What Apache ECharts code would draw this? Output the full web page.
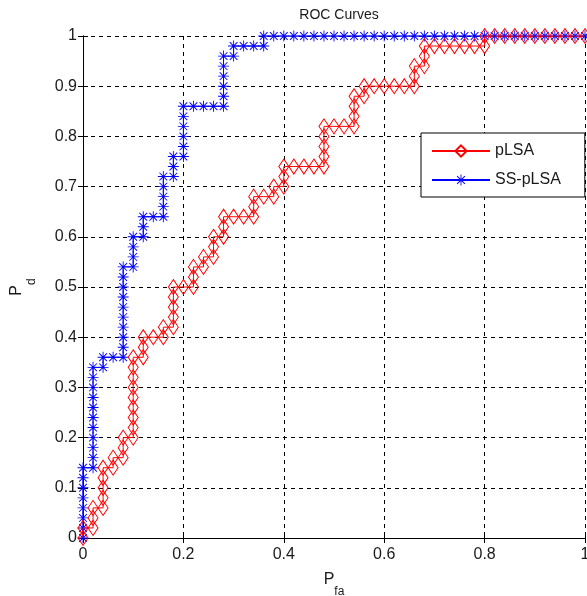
<!DOCTYPE html>
<html lang="en">
<head>
    <meta charset="UTF-8">
    <title>ROC Curves</title>
    <script type="text/javascript" src="https://cdn.jsdelivr.net/npm/echarts@6/dist/echarts.min.js"></script>
    <style>
        body { margin: 0; background: #fff; }
    </style>
</head>
<body>
<div id="main" style="width: 587px;height:596px;"></div>
<script>
    // pLSA: false alarm rate / detection rate
    var plsaFa = [0, 0, 0.02, 0.02, 0.02, 0.04, 0.04, 0.04, 0.04, 0.04, 0.06, 0.06, 0.08, 0.08, 0.08,
        0.10, 0.10, 0.10, 0.10, 0.10, 0.10, 0.10, 0.10, 0.10,
        0.12, 0.12, 0.12, 0.14, 0.16, 0.16,
        0.18, 0.18, 0.18, 0.18, 0.18, 0.20, 0.22, 0.22, 0.22, 0.24, 0.24,
        0.26, 0.26, 0.26, 0.28, 0.28, 0.28, 0.30, 0.32, 0.34, 0.34, 0.34, 0.36, 0.38, 0.38,
        0.40, 0.40, 0.40, 0.42, 0.44, 0.46, 0.48, 0.48, 0.48, 0.48, 0.48,
        0.50, 0.52, 0.54, 0.54, 0.54, 0.54, 0.56, 0.56,
        0.58, 0.60, 0.62, 0.64, 0.66, 0.66, 0.66, 0.68, 0.68, 0.68,
        0.70, 0.72, 0.74, 0.76, 0.78, 0.80,
        0.80, 0.82, 0.84, 0.86, 0.88, 0.90, 0.92, 0.94, 0.96, 0.98, 1.00];
    var plsaPd = [0, 0.02, 0.02, 0.04, 0.06, 0.06, 0.08, 0.10, 0.12, 0.14, 0.14, 0.16, 0.16, 0.18, 0.20,
        0.20, 0.22, 0.24, 0.26, 0.28, 0.30, 0.32, 0.34, 0.36,
        0.36, 0.38, 0.40, 0.40, 0.40, 0.42,
        0.42, 0.44, 0.46, 0.48, 0.50, 0.50, 0.50, 0.52, 0.54, 0.54, 0.56,
        0.56, 0.58, 0.60, 0.60, 0.62, 0.64, 0.64, 0.64, 0.64, 0.66, 0.68, 0.68, 0.68, 0.70,
        0.70, 0.72, 0.74, 0.74, 0.74, 0.74, 0.74, 0.76, 0.78, 0.80, 0.82,
        0.82, 0.82, 0.82, 0.84, 0.86, 0.88, 0.88, 0.90,
        0.90, 0.90, 0.90, 0.90, 0.90, 0.92, 0.94, 0.94, 0.96, 0.98,
        0.98, 0.98, 0.98, 0.98, 0.98, 0.98,
        1, 1, 1, 1, 1, 1, 1, 1, 1, 1, 1];

    // SS-pLSA
    var sspFa = [0, 0, 0, 0, 0, 0, 0, 0,
        0.02, 0.02, 0.02, 0.02, 0.02, 0.02, 0.02, 0.02, 0.02, 0.02, 0.02,
        0.04, 0.04, 0.06, 0.08,
        0.08, 0.08, 0.08, 0.08, 0.08, 0.08, 0.08, 0.08, 0.08,
        0.10, 0.10, 0.10, 0.10, 0.12, 0.12, 0.12, 0.14, 0.16,
        0.16, 0.16, 0.16, 0.16, 0.18, 0.18, 0.18,
        0.20, 0.20, 0.20, 0.20, 0.20, 0.20, 0.22, 0.24, 0.26, 0.28,
        0.28, 0.28, 0.28, 0.28, 0.28, 0.30, 0.30, 0.32, 0.34, 0.36,
        0.36, 0.38, 0.40, 0.42, 0.44, 0.46, 0.48, 0.50, 0.52, 0.54, 0.56, 0.58, 0.60, 0.62, 0.64, 0.66,
        0.68, 0.70, 0.72, 0.74, 0.76, 0.78, 0.80, 0.82, 0.84, 0.86, 0.88, 0.90, 0.92, 0.94, 0.96, 0.98, 1.00];
    var sspPd = [0, 0.02, 0.04, 0.06, 0.08, 0.10, 0.12, 0.14,
        0.14, 0.16, 0.18, 0.20, 0.22, 0.24, 0.26, 0.28, 0.30, 0.32, 0.34,
        0.34, 0.36, 0.36, 0.36,
        0.38, 0.40, 0.42, 0.44, 0.46, 0.48, 0.50, 0.52, 0.54,
        0.54, 0.56, 0.58, 0.60, 0.60, 0.62, 0.64, 0.64, 0.64,
        0.66, 0.68, 0.70, 0.72, 0.72, 0.74, 0.76,
        0.76, 0.78, 0.80, 0.82, 0.84, 0.86, 0.86, 0.86, 0.86, 0.86,
        0.88, 0.90, 0.92, 0.94, 0.96, 0.96, 0.98, 0.98, 0.98, 0.98,
        1, 1, 1, 1, 1, 1, 1, 1, 1, 1, 1, 1, 1, 1, 1, 1,
        1, 1, 1, 1, 1, 1, 1, 1, 1, 1, 1, 1, 1, 1, 1, 1, 1];

    var seriesNames = ['pLSA', 'SS-pLSA'];
    var txtColor = '#1a1a1a';
    var font = 'Liberation Sans, Arial, sans-serif';

    // matlab style asterisk marker
    var asterisk = 'path://M0,9.2h20v1.6h-20z M9.2,0h1.6v20h-1.6z ' +
        'M2.4,3.6L3.6,2.4L17.6,16.4L16.4,17.6z M16.4,2.4L17.6,3.6L3.6,17.6L2.4,16.4z';

    function pairs(xs, ys) {
        var out = [];
        for (var i = 0; i < xs.length; i++) {
            out.push([xs[i], ys[i]]);
        }
        return out;
    }

    var boxAxis = {
        min: 0, max: 1,
        axisLine: {show: true, lineStyle: {color: '#000', width: 1}},
        axisTick: {show: true, inside: true, length: 5, lineStyle: {color: '#000'}},
        axisLabel: {show: false},
        splitLine: {show: false}
    };

    var option = {
        animation: false,
        backgroundColor: '#fff',
        title: {
            text: 'ROC Curves',
            left: 334,
            top: 3,
            textAlign: 'center',
            textStyle: {fontFamily: font, fontSize: 14, fontWeight: 'normal', color: txtColor}
        },
        legend: {
            data: seriesNames,
            orient: 'vertical',
            left: 421,
            top: 133,
            itemWidth: 58,
            itemHeight: 14,
            itemGap: 13,
            padding: [10, 24, 9, 10],
            backgroundColor: '#fff',
            borderColor: '#000',
            borderWidth: 1,
            borderRadius: 0,
            textStyle: {fontFamily: font, fontSize: 16, color: txtColor}
        },
        grid: {
            left: 83,
            top: 36,
            width: 502,
            height: 502,
            containLabel: false,
            outerBoundsMode: 'none'
        },
        xAxis: [
            {
                type: 'value',
                min: 0,
                max: 1,
                interval: 0.2,
                name: '{p|P}{s|fa}',
                nameLocation: 'middle',
                nameGap: 24,
                nameTextStyle: {
                    rich: {
                        p: {fontFamily: font, fontSize: 16, color: txtColor},
                        s: {fontFamily: font, fontSize: 12, color: txtColor, padding: [24, 0, 0, 0]}
                    }
                },
                axisLine: {lineStyle: {color: '#000', width: 1}},
                axisTick: {inside: true, length: 5, lineStyle: {color: '#000'}},
                axisLabel: {fontFamily: font, fontSize: 16, color: txtColor, margin: 9},
                splitLine: {show: true, lineStyle: {color: '#000', type: [4, 4], width: 1}}
            },
            Object.assign({type: 'value', position: 'top', interval: 0.2}, boxAxis)
        ],
        yAxis: [
            {
                type: 'value',
                min: 0,
                max: 1,
                interval: 0.1,
                name: '{p|P}{s|d}',
                nameLocation: 'middle',
                nameGap: 45,
                nameTextStyle: {
                    rich: {
                        p: {fontFamily: font, fontSize: 16, color: txtColor},
                        s: {fontFamily: font, fontSize: 12, color: txtColor, padding: [30, 0, 0, 0]}
                    }
                },
                axisLine: {lineStyle: {color: '#000', width: 1}},
                axisTick: {inside: true, length: 5, lineStyle: {color: '#000'}},
                axisLabel: {fontFamily: font, fontSize: 16, color: txtColor, margin: 6},
                splitLine: {show: true, lineStyle: {color: '#000', type: [4, 4], width: 1}}
            },
            Object.assign({type: 'value', position: 'right', interval: 0.1}, boxAxis)
        ],
        series: [
            {
                name: seriesNames[1],
                type: 'line',
                data: pairs(sspFa, sspPd),
                symbol: asterisk,
                symbolSize: 11,
                lineStyle: {color: '#0000ff', width: 1},
                itemStyle: {color: '#0000ff'},
                z: 3
            },
            {
                name: seriesNames[0],
                type: 'line',
                data: pairs(plsaFa, plsaPd),
                symbol: 'diamond',
                symbolSize: [10, 15],
                lineStyle: {color: '#ff0000', width: 1},
                itemStyle: {color: 'rgba(255,255,255,0)', borderColor: '#ff0000', borderWidth: 1},
                z: 4
            }
        ]
    };

    var myChart = echarts.init(document.getElementById('main'));
    myChart.setOption(option);
</script>
</body>
</html>
